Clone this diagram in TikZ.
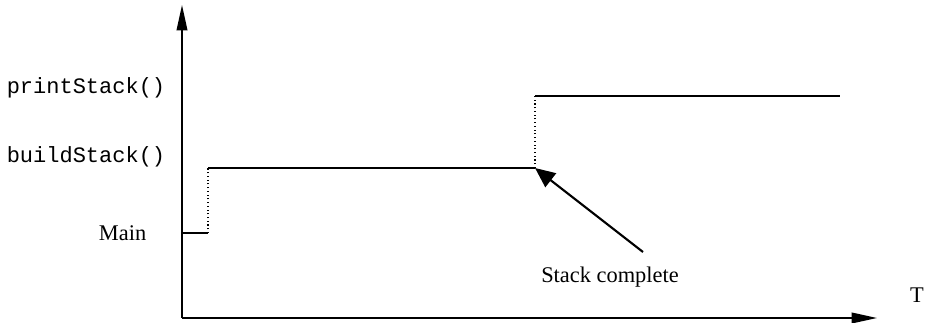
\documentclass[tikz,border=0pt]{standalone}
\usepackage{fontspec}
\setmainfont{Liberation Serif}
\newfontfamily\codefont{Liberation Mono}
\usetikzlibrary{arrows.meta}

\begin{document}
\begin{tikzpicture}[x=0.75pt, y=-0.75pt, line width=1.2pt,
  axis/.style = {-{Triangle[length=19pt, width=8pt]}},
  level/.style = {anchor=east, inner sep=0pt, font=\fontsize{16.5}{18}\selectfont\codefont},
  txt/.style = {inner sep=0pt, font=\fontsize{16.8}{18}\selectfont}]
\useasboundingbox (0,0) rectangle (925,323);
\coordinate (origin) at (182,318);
\coordinate (ytop) at (182,5);
\coordinate (xend) at (877,318);
\coordinate (m0) at (182,233);
\coordinate (m1) at (208,233);
\coordinate (b0) at (208,168);
\coordinate (b1) at (535,168);
\coordinate (p0) at (535,96);
\coordinate (p1) at (840,96);
\coordinate (tail) at (643,252);
\node[level] (print) at (166,88) {printStack()};
\node[level] (build) at (166,157) {buildStack()};
\node[txt, anchor=east] (main) at (147,233) {Main};
\node[txt] (done) at (610,277) {Stack complete};
\node[txt] (time) at (917,295) {T};
\draw[axis] (origin) -- (ytop);
\draw[axis] (origin) -- (xend);
\draw (m0) -- (m1);
\draw[dotted, line width=0.8pt] (m1) -- (b0);
\draw (b0) -- (b1);
\draw[dotted, line width=0.8pt] (b1) -- (p0);
\draw (p0) -- (p1);
\draw[line width=1.6pt, -{Triangle[length=15pt, width=13pt]}] (tail) -- (b1);
\end{tikzpicture}
\end{document}
